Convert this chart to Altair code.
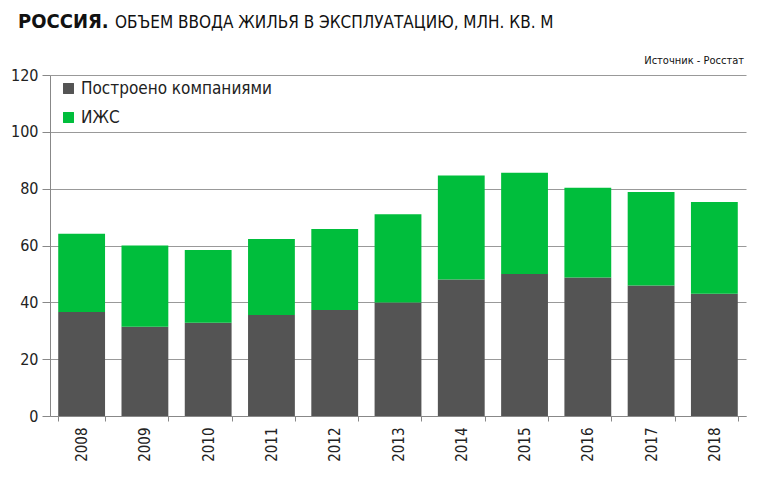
import altair as alt
import pandas as pd

years = ["2008", "2009", "2010", "2011", "2012", "2013", "2014", "2015", "2016", "2017", "2018"]
companies = [36.6, 31.4, 32.8, 35.5, 37.3, 39.9, 48.0, 50.0, 48.7, 45.9, 43.0]
izhs = [27.5, 28.6, 25.6, 26.8, 28.5, 31.1, 36.6, 35.6, 31.6, 32.9, 32.3]
series = ["Построено компаниями", "ИЖС"]
colors = ["#545454", "#00BE3C"]
y_ticks = [0, 20, 40, 60, 80, 100, 120]

FONT = "Liberation Sans Narrow, DejaVu Sans Condensed, sans-serif"

rows = []
for i, y in enumerate(years):
    rows.append({"year": y, "series": series[0], "value": companies[i], "ord": 0})
    rows.append({"year": y, "series": series[1], "value": izhs[i], "ord": 1})
df = pd.DataFrame(rows)

bars = alt.Chart(df).mark_bar().encode(
    x=alt.X("year:N", sort=years, title=None,
            scale=alt.Scale(paddingInner=0.26, paddingOuter=0.13),
            axis=alt.Axis(labelAngle=-90, labelFontSize=15, labelColor="#222222",
                          labelFont=FONT, domainColor="#888888", tickColor="#888888",
                          tickBand="extent", tickSize=5, labelPadding=6, grid=False)),
    y=alt.Y("value:Q", stack="zero", title=None,
            scale=alt.Scale(domain=[0, 120], nice=False),
            axis=alt.Axis(values=y_ticks, labelFontSize=16, labelColor="#222222",
                          labelFont=FONT, domainColor="#888888", tickColor="#888888",
                          tickSize=8, labelPadding=4, gridColor="#999999", gridWidth=1)),
    color=alt.Color("series:N", sort=series,
                    scale=alt.Scale(domain=series, range=colors),
                    legend=alt.Legend(title=None, orient="none", legendX=10, legendY=5,
                                      symbolType="square", symbolSize=120,
                                      symbolStrokeWidth=0, labelFontSize=17,
                                      labelFont=FONT, labelColor="#222222", labelLimit=0,
                                      rowPadding=11, labelOffset=4)),
    order=alt.Order("ord:Q", sort="ascending"),
)

title_bold = alt.Chart(pd.DataFrame({"t": ["РОССИЯ."]})).mark_text(
    align="left", baseline="alphabetic", fontSize=20, fontWeight="bold", font=FONT, color="#111111"
).encode(text="t:N", x=alt.value(-32), y=alt.value(-47))

title_rest = alt.Chart(pd.DataFrame({"t": ["ОБЪЕМ ВВОДА  ЖИЛЬЯ В ЭКСПЛУАТАЦИЮ, МЛН. КВ. М"]})).mark_text(
    align="left", baseline="alphabetic", fontSize=17, font=FONT, color="#111111"
).encode(text="t:N", x=alt.value(65), y=alt.value(-47))

source = alt.Chart(pd.DataFrame({"t": ["Источник - Росстат"]})).mark_text(
    align="right", baseline="middle", fontSize=11, font=FONT, color="#111111"
).encode(text="t:N", x=alt.value(694), y=alt.value(-14))

chart = alt.layer(bars, title_bold, title_rest, source).properties(
    width=696, height=341,
    autosize=alt.AutoSizeParams(type="none"),
    padding={"left": 42, "top": 67, "right": 16, "bottom": 53},
).configure_view(stroke=None)

chart.save("out.html", embed_options={"renderer": "svg", "actions": False})
